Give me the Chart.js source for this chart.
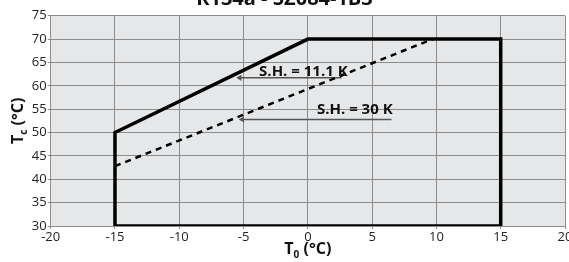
<!DOCTYPE html>
<html>
<head>
<meta charset="utf-8">
<script src="https://cdn.jsdelivr.net/npm/chart.js@4/dist/chart.umd.min.js"></script>
<style>
    html, body { margin: 0; padding: 0; background: #fff; }
    #wrap { width: 569px; height: 262px; }
</style>
</head>
<body>
<div id="wrap"><canvas id="chart" width="569" height="262"></canvas></div>
<script>
// Dane
const tytul = 'R134a - 5Z084-1B3';

const obwiedniaT0 = [-15, -15, 0, 15, 15, -15];
const obwiedniaTc = [30, 50, 70, 70, 30, 30];

const sh30T0 = [-15, 9.7];
const sh30Tc = [42.8, 70];

const strzalka111T0 = [2.6, -5.3];
const strzalka111Tc = [61.7, 61.7];
const strzalka30T0 = [6.5, -5.1];
const strzalka30Tc = [52.8, 52.8];

const etykiety = ['S.H. = 11.1 K', 'S.H. = 30 K'];
const etykietyT0 = [-0.35, 3.65];
const etykietyTc = [62.1, 53.9];

const osXTicks = [-20, -15, -10, -5, 0, 5, 10, 15, 20];
const osYTicks = [30, 35, 40, 45, 50, 55, 60, 65, 70, 75];

const punkty = (xs, ys) => xs.map((x, i) => ({ x: x, y: ys[i] }));

const tloWykresu = {
    id: 'tloWykresu',
    beforeDraw(chart) {
        const { ctx, chartArea: a } = chart;
        ctx.save();
        ctx.fillStyle = '#e6e7e8';
        ctx.fillRect(a.left, a.top, a.right - a.left, a.bottom - a.top);
        ctx.restore();
    }
};

// tekst z indeksem dolnym: "T" + "c" + " (°C)"
function tekstZIndeksem(ctx, x, y, glowny, indeks, reszta) {
    const duzy = 'bold 16px "Open Sans"';
    const maly = 'bold 10px "Open Sans"';
    ctx.font = duzy;
    const w1 = ctx.measureText(glowny).width;
    const w3 = ctx.measureText(reszta).width;
    ctx.font = maly;
    const w2 = ctx.measureText(indeks).width;
    let sx = x - (w1 + w2 + w3) / 2;
    ctx.textAlign = 'left';
    ctx.textBaseline = 'alphabetic';
    ctx.font = duzy;
    ctx.fillText(glowny, sx, y);
    ctx.font = maly;
    ctx.fillText(indeks, sx + w1, y + 4);
    ctx.font = duzy;
    ctx.fillText(reszta, sx + w1 + w2, y);
}

const teksty = {
    id: 'teksty',
    afterDraw(chart) {
        const { ctx, chartArea: a, scales } = chart;
        ctx.save();
        ctx.fillStyle = '#111';

        // tytuł (ucięty u góry jak w oryginale)
        ctx.font = 'bold 20px "Open Sans"';
        ctx.textAlign = 'center';
        ctx.textBaseline = 'alphabetic';
        ctx.fillText(tytul, chart.width / 2, 5);

        // tytuły osi
        tekstZIndeksem(ctx, (a.left + a.right) / 2, 254, 'T', '0', ' (°C)');
        ctx.save();
        ctx.translate(23, (a.top + a.bottom) / 2);
        ctx.rotate(-Math.PI / 2);
        tekstZIndeksem(ctx, 0, 0, 'T', 'c', ' (°C)');
        ctx.restore();

        // etykiety przegrzania
        ctx.font = 'bold 15px "Open Sans"';
        ctx.textAlign = 'center';
        ctx.textBaseline = 'alphabetic';
        etykiety.forEach((t, i) => {
            ctx.fillText(t, scales.x.getPixelForValue(etykietyT0[i]), scales.y.getPixelForValue(etykietyTc[i]));
        });
        ctx.restore();
    }
};

const strzalka = (xs, ys) => ({
    data: punkty(xs, ys),
    showLine: true,
    borderColor: '#555',
    backgroundColor: '#555',
    borderWidth: 1.5,
    pointStyle: 'triangle',
    pointRadius: [0, 3.5],
    pointRotation: -90,
    pointBorderWidth: 0
});

new Chart(document.getElementById('chart'), {
    type: 'scatter',
    data: {
        datasets: [
            {
                data: punkty(obwiedniaT0, obwiedniaTc),
                showLine: true,
                borderColor: '#000',
                borderWidth: 3.5,
                pointRadius: 0,
                borderJoinStyle: 'miter',
                tension: 0
            },
            {
                data: punkty(sh30T0, sh30Tc),
                showLine: true,
                borderColor: '#000',
                borderWidth: 2.5,
                borderDash: [6, 5],
                pointRadius: 0
            },
            strzalka(strzalka111T0, strzalka111Tc),
            strzalka(strzalka30T0, strzalka30Tc)
        ]
    },
    options: {
        responsive: false,
        animation: false,
        layout: { padding: { top: 15.7, right: 4, bottom: 0, left: 0 } },
        plugins: {
            legend: { display: false },
            tooltip: { enabled: false }
        },
        scales: {
            x: {
                type: 'linear',
                min: -20,
                max: 20,
                afterBuildTicks: s => { s.ticks = osXTicks.map(v => ({ value: v })); },
                afterFit: s => { s.height = 36; s.paddingLeft = 0; s.paddingRight = 0; },
                grid: { color: '#8c8c8c', lineWidth: 1, tickLength: 3, tickColor: '#8c8c8c' },
                border: { color: '#8c8c8c' },
                ticks: {
                    color: '#222',
                    font: { family: 'Open Sans', size: 13 },
                    padding: 0,
                    maxRotation: 0
                }
            },
            y: {
                type: 'linear',
                min: 30,
                max: 75,
                afterBuildTicks: s => { s.ticks = osYTicks.map(v => ({ value: v })); },
                afterFit: s => { s.width = 50.7; s.paddingTop = 0; s.paddingBottom = 0; },
                grid: { color: '#8c8c8c', lineWidth: 1, tickLength: 3, tickColor: '#8c8c8c' },
                border: { color: '#8c8c8c' },
                ticks: {
                    color: '#222',
                    font: { family: 'Open Sans', size: 13 },
                    padding: 1
                }
            }
        }
    },
    plugins: [tloWykresu, teksty]
});
</script>
</body>
</html>
